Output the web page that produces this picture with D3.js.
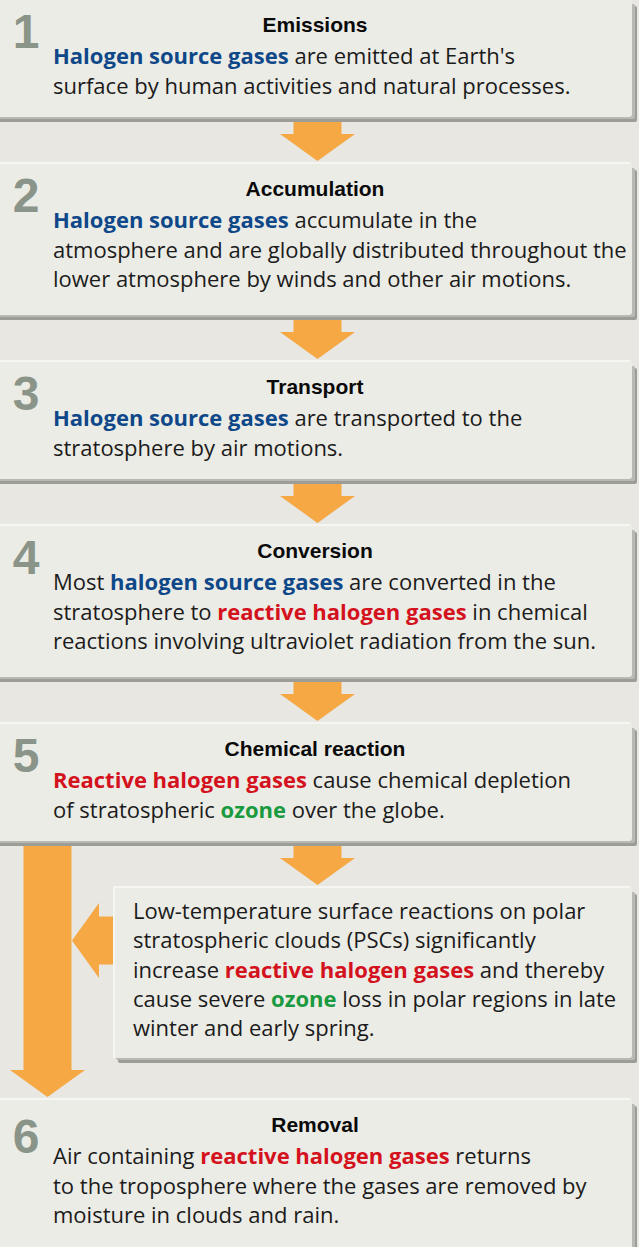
<!DOCTYPE html>
<html>
<head>
<meta charset="utf-8">
<script src="https://cdn.jsdelivr.net/npm/d3@7"></script>
<style>
  html, body { margin: 0; padding: 0; background: #e8e7e2; }
  svg { display: block; }
</style>
</head>
<body>
<div id="main"></div>
<script>
// step data
const stepNumbers = ["1", "2", "3", "4", "5", "6"]
const stepTitles = ["Emissions", "Accumulation", "Transport", "Conversion", "Chemical reaction", "Removal"]
// [b:...] blue, [r:...] red, [g:...] green
const stepLines = [
  ["[b:Halogen source gases] are emitted at Earth's",
   "surface by human activities and natural processes."],
  ["[b:Halogen source gases] accumulate in the",
   "atmosphere and are globally distributed throughout the",
   "lower atmosphere by winds and other air motions."],
  ["[b:Halogen source gases] are transported to the",
   "stratosphere by air motions."],
  ["Most [b:halogen source gases] are converted in the",
   "stratosphere to [r:reactive halogen gases] in chemical",
   "reactions involving ultraviolet radiation from the sun."],
  ["[r:Reactive halogen gases] cause chemical depletion",
   "of stratospheric [g:ozone] over the globe."],
  ["Air containing [r:reactive halogen gases] returns",
   "to the troposphere where the gases are removed by",
   "moisture in clouds and rain."]
]
const pscLines = [
  "Low-temperature surface reactions on polar",
  "stratospheric clouds (PSCs) significantly",
  "increase [r:reactive halogen gases] and thereby",
  "cause severe [g:ozone] loss in polar regions in late",
  "winter and early spring."
]
const highlightKeys = ["b", "r", "g"]
const highlightColors = ["#0f4889", "#d4121d", "#1a9a3e"]

const W = 639, H = 1247
const color = d3.scaleOrdinal().domain(highlightKeys).range(highlightColors)
const orange = "#f5a843"
const bodyFont = "'Open Sans', 'Liberation Sans', sans-serif"
const titleFont = "'Liberation Sans', Arial, sans-serif"

const svg = d3.select('div#main').append('svg')
  .attr('width', W)
  .attr('height', H)

svg.append('rect').attr('width', W).attr('height', H).attr('fill', '#e8e7e2')

// split a line into plain / highlighted parts
function parseLine(str) {
  const parts = []
  const re = /\[(\w):([^\]]+)\]/g
  let last = 0, m
  while ((m = re.exec(str)) !== null) {
    if (m.index > last) parts.push({t: str.slice(last, m.index), k: null})
    parts.push({t: m[2], k: m[1]})
    last = re.lastIndex
  }
  if (last < str.length) parts.push({t: str.slice(last), k: null})
  return parts
}

function drawBox(g, x, y, w, h) {
  g.append('rect')
    .attr('x', x + 5).attr('y', y + 8)
    .attr('width', w).attr('height', h - 3)
    .attr('rx', 2)
    .attr('fill', '#9d9d97')
  g.append('rect')
    .attr('x', x + 3).attr('y', y + 6)
    .attr('width', w).attr('height', h - 4)
    .attr('rx', 2)
    .attr('fill', '#b9b9b3')
  g.append('rect')
    .attr('x', x).attr('y', y)
    .attr('width', w).attr('height', h)
    .attr('rx', 3)
    .attr('fill', '#ecece6')
  g.append('rect')
    .attr('x', x).attr('y', y)
    .attr('width', w - 2).attr('height', 2)
    .attr('fill', '#f5f5f1')
}

function drawLines(g, lines, x, y0, step) {
  const text = g.append('g')
    .attr('font-family', bodyFont)
    .attr('font-size', 22)
    .attr('fill', '#1b1b1b')
  lines.forEach((ln, i) => {
    const t = text.append('text').attr('x', x).attr('y', y0 + i * step)
    parseLine(ln).forEach(p => {
      t.append('tspan')
        .text(p.t)
        .attr('font-weight', p.k ? 700 : 400)
        .attr('fill', p.k ? color(p.k) : null)
    })
  })
}

// arrow pointing down (or left) with stem + head
const stemHalf = 24, headHalf = 37.5, headLen = 27
const line = d3.line()
function downArrow(cx, y0, tipY) {
  const hy = tipY - headLen
  return line([[cx - stemHalf, y0], [cx + stemHalf, y0], [cx + stemHalf, hy], [cx + headHalf, hy],
    [cx, tipY], [cx - headHalf, hy], [cx - stemHalf, hy]]) + 'Z'
}
function leftArrow(cy, x0, tipX) {
  const hx = tipX + headLen
  return line([[x0, cy - stemHalf], [x0, cy + stemHalf], [hx, cy + stemHalf], [hx, cy + headHalf],
    [tipX, cy], [hx, cy - headHalf], [hx, cy - stemHalf]]) + 'Z'
}

const boxX = -10, boxW = 642
const arrowX = 317.5
const gap = 45
const lineStep = 29.5

// layout the six boxes top to bottom
let y = -2
const tops = []
stepLines.forEach((lines, i) => {
  const h = lines.length === 2 ? 119 : 153
  tops.push({y: y, h: h})
  y += h + (i === 4 ? 257 : gap)
})

const arrows = svg.append('g').attr('fill', orange)
const boxes = svg.append('g')

tops.forEach((b, i) => {
  const g = boxes.append('g')
  drawBox(g, boxX, b.y, boxW, b.h)
  g.append('text')
    .attr('x', 26).attr('y', b.y + (i === 5 ? 55 : 50))
    .attr('text-anchor', 'middle')
    .attr('font-family', titleFont)
    .attr('font-weight', 700)
    .attr('font-size', 48)
    .attr('fill', '#8a9489')
    .text(stepNumbers[i])
  g.append('text')
    .attr('x', 315).attr('y', b.y + 34)
    .attr('text-anchor', 'middle')
    .attr('font-family', titleFont)
    .attr('font-weight', 700)
    .attr('font-size', 21)
    .attr('fill', '#0a0a0a')
    .text(stepTitles[i])
  drawLines(g, stepLines[i], 53, b.y + 66, lineStep)
})

// straight down arrows between boxes 1..5
for (let i = 0; i < 4; i++) {
  const a = tops[i], b = tops[i + 1]
  arrows.append('path').attr('d', downArrow(arrowX, a.y + a.h + 3, b.y - 1))
}

// PSC side box
const box5 = tops[4], box6 = tops[5]
const pscX = 113, pscY = box5.y + box5.h + gap, pscW = 519, pscH = 172
arrows.append('path').attr('d', downArrow(arrowX, box5.y + box5.h + 3, pscY - 1))
arrows.append('path').attr('d', downArrow(47.5, box5.y + box5.h + 4, box6.y - 1))
arrows.append('path').attr('d', leftArrow(pscY + 54.5, pscX + 1, 72))

const psc = boxes.append('g')
drawBox(psc, pscX, pscY, pscW, pscH)
psc.append('rect')
  .attr('x', pscX).attr('y', pscY)
  .attr('width', 2).attr('height', pscH)
  .attr('fill', '#f5f5f1')
drawLines(psc, pscLines, 133, pscY + 33, 29.3)
</script>
</body>
</html>
